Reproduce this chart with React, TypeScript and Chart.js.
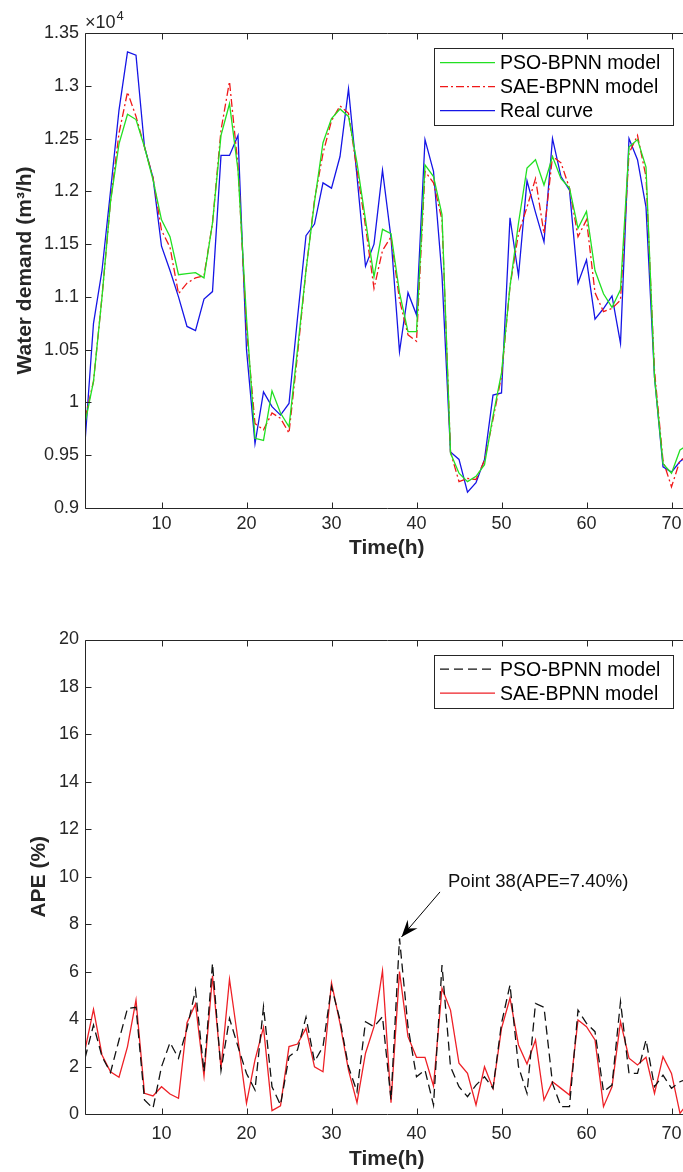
import React, { useEffect, useRef } from "react";
import { Chart, registerables } from "chart.js";

Chart.register(...registerables);

// ---------------- data ----------------
const hours = [
  1, 2, 3, 4, 5, 6, 7, 8, 9, 10, 11, 12, 13, 14, 15, 16, 17, 18, 19, 20,
  21, 22, 23, 24, 25, 26, 27, 28, 29, 30, 31, 32, 33, 34, 35, 36, 37, 38, 39, 40,
  41, 42, 43, 44, 45, 46, 47, 48, 49, 50, 51, 52, 53, 54, 55, 56, 57, 58, 59, 60,
  61, 62, 63, 64, 65, 66, 67, 68, 69, 70, 71, 72,
];
const xTicks = [10, 20, 30, 40, 50, 60, 70];
const demandTicks = [0.9, 0.95, 1, 1.05, 1.1, 1.15, 1.2, 1.25, 1.3, 1.35];
const apeTicks = [0, 2, 4, 6, 8, 10, 12, 14, 16, 18, 20];

// water demand, in units of 10^4 m3/h
const psoDemand = [
  0.980, 1.020, 1.100, 1.190, 1.245, 1.273, 1.268, 1.242, 1.211, 1.173,
  1.157, 1.121, 1.122, 1.123, 1.118, 1.170, 1.253, 1.283, 1.220, 1.080,
  0.966, 0.964, 1.011, 0.990, 0.977, 1.050, 1.125, 1.190, 1.246, 1.269,
  1.278, 1.271, 1.227, 1.173, 1.119, 1.164, 1.160, 1.104, 1.067, 1.067,
  1.225, 1.214, 1.178, 0.952, 0.933, 0.925, 0.930, 0.941, 0.987, 1.028,
  1.110, 1.170, 1.222, 1.230, 1.206, 1.233, 1.212, 1.203, 1.165, 1.181,
  1.125, 1.103, 1.090, 1.107, 1.242, 1.249, 1.223, 1.024, 0.942, 0.933,
  0.955, 0.960,
];
const saeDemand = [
  0.985, 1.020, 1.100, 1.190, 1.255, 1.294, 1.271, 1.242, 1.213, 1.163,
  1.147, 1.103, 1.113, 1.118, 1.120, 1.170, 1.258, 1.304, 1.224, 1.070,
  0.980, 0.974, 0.990, 0.985, 0.971, 1.045, 1.125, 1.192, 1.236, 1.267,
  1.281, 1.274, 1.220, 1.167, 1.108, 1.144, 1.157, 1.097, 1.064, 1.058,
  1.219, 1.208, 1.173, 0.953, 0.925, 0.928, 0.927, 0.945, 0.984, 1.025,
  1.110, 1.160, 1.185, 1.212, 1.160, 1.233, 1.227, 1.203, 1.157, 1.173,
  1.104, 1.086, 1.089, 1.097, 1.236, 1.253, 1.214, 1.030, 0.945, 0.920,
  0.945, 0.950,
];
const realDemand = [
  0.962, 1.075, 1.125, 1.200, 1.277, 1.332, 1.329, 1.242, 1.213, 1.148,
  1.125, 1.100, 1.072, 1.068, 1.098, 1.105, 1.234, 1.234, 1.253, 1.050,
  0.961, 1.010, 0.996, 0.988, 0.999, 1.080, 1.158, 1.169, 1.208, 1.203,
  1.233, 1.297, 1.214, 1.129, 1.150, 1.220, 1.156, 1.048, 1.104, 1.083,
  1.249, 1.219, 1.120, 0.953, 0.946, 0.915, 0.924, 0.946, 1.007, 1.009,
  1.175, 1.120, 1.210, 1.180, 1.152, 1.250, 1.214, 1.201, 1.113, 1.135,
  1.079, 1.089, 1.101, 1.056, 1.250, 1.230, 1.185, 1.024, 0.939, 0.934,
  0.944, 0.950,
];

// absolute percentage error (%)
const psoApe = [
  2.35, 3.75, 2.42, 1.75, 3.12, 4.45, 4.50, 0.59, 0.24, 1.99,
  3.01, 2.35, 3.60, 5.23, 1.78, 6.35, 1.83, 4.03, 2.84, 1.71,
  1.01, 4.52, 1.15, 0.38, 2.42, 2.70, 4.08, 2.21, 2.84, 5.37,
  3.96, 1.99, 0.94, 3.89, 3.68, 4.10, 0.60, 7.40, 3.68, 1.57,
  1.85, 0.38, 6.28, 1.99, 1.15, 0.73, 1.22, 1.57, 1.08, 3.82,
  5.44, 1.99, 0.87, 4.66, 4.50, 1.29, 0.31, 0.31, 4.38, 3.82,
  3.47, 0.94, 1.22, 4.73, 1.71, 1.71, 3.12, 1.15, 1.64, 1.08,
  1.36, 1.50,
];
const saeApe = [
  2.70, 4.41, 2.49, 1.78, 1.55, 2.84, 4.80, 0.87, 0.76, 1.15,
  0.84, 0.66, 3.85, 4.64, 1.60, 5.82, 1.93, 5.68, 3.12, 0.45,
  2.28, 3.65, 0.14, 0.34, 2.84, 2.95, 3.61, 1.99, 1.78, 5.53,
  3.82, 1.85, 0.48, 2.56, 3.68, 6.04, 0.48, 6.00, 3.26, 2.39,
  2.39, 1.18, 5.30, 4.38, 2.14, 1.71, 0.38, 1.99, 1.08, 3.61,
  4.88, 2.91, 2.11, 3.12, 0.59, 1.36, 1.08, 0.80, 3.96, 3.68,
  3.12, 0.31, 1.15, 3.89, 2.35, 2.07, 2.39, 0.87, 2.42, 1.71,
  0.03, 0.50,
];

const annotatedHour = 38;
const annotatedApe = 7.4;
const annotationText = "Point 38(APE=7.40%)";

// ---------------- style ----------------
const FONT = "'Liberation Sans', Arial, Helvetica, sans-serif";
const AXIS = "#262626";
const CANVAS_W = 720;
const PLOT_LEFT = 85;
const PLOT_RIGHT = 688.5;

const pts = (ys: number[]) => hours.map((h, i) => ({ x: h, y: ys[i] }));

const boxPlugin = {
  id: "matlabBox",
  afterDatasetsDraw(chart: any) {
    const { ctx, chartArea: a, scales } = chart;
    ctx.save();
    ctx.strokeStyle = AXIS;
    ctx.lineWidth = 1;
    const L = Math.round(a.left) + 0.5;
    const T = Math.round(a.top) + 0.5;
    const R = Math.round(a.right) + 0.5;
    const B = Math.round(a.bottom) + 0.5;
    ctx.beginPath();
    ctx.rect(L, T, R - L, B - T);
    const tl = 6;
    scales.x.ticks.forEach((t: any) => {
      const px = Math.round(scales.x.getPixelForValue(t.value)) + 0.5;
      ctx.moveTo(px, B);
      ctx.lineTo(px, B - tl);
      ctx.moveTo(px, T);
      ctx.lineTo(px, T + tl);
    });
    scales.y.ticks.forEach((t: any) => {
      const py = Math.round(scales.y.getPixelForValue(t.value)) + 0.5;
      ctx.moveTo(L, py);
      ctx.lineTo(L + tl, py);
      ctx.moveTo(R, py);
      ctx.lineTo(R - tl, py);
    });
    ctx.stroke();
    ctx.restore();
  },
};

const makeLegend = (offTop: number, offRight: number, width: number) => ({
  id: "matlabLegend",
  afterDatasetsDraw(chart: any) {
    const { ctx, chartArea: a } = chart;
    const ds = chart.data.datasets;
    const rowH = 24;
    const padY = 2.7;
    const right = a.right - offRight;
    const left = right - width;
    const top = a.top + offTop;
    const h = padY * 2 + ds.length * rowH;
    ctx.save();
    ctx.fillStyle = "#ffffff";
    ctx.fillRect(left, top, width, h);
    ctx.strokeStyle = AXIS;
    ctx.lineWidth = 1;
    ctx.strokeRect(Math.round(left) + 0.5, Math.round(top) + 0.5, Math.round(width), Math.round(h));
    ds.forEach((d: any, i: number) => {
      const cy = top + padY + rowH * (i + 0.5);
      ctx.beginPath();
      ctx.setLineDash(d.borderDash || []);
      ctx.strokeStyle = d.borderColor;
      ctx.lineWidth = d.borderWidth;
      ctx.moveTo(left + 6, cy);
      ctx.lineTo(left + 61, cy);
      ctx.stroke();
      ctx.setLineDash([]);
      ctx.fillStyle = "#000000";
      ctx.font = `19.5px ${FONT}`;
      ctx.textAlign = "left";
      ctx.textBaseline = "middle";
      ctx.fillText(d.label, left + 66, cy + 1);
    });
    ctx.restore();
  },
});

const exponentPlugin = {
  id: "exponent",
  afterDraw(chart: any) {
    const { ctx, chartArea: a } = chart;
    ctx.save();
    ctx.fillStyle = AXIS;
    ctx.textAlign = "left";
    ctx.textBaseline = "alphabetic";
    ctx.font = `18px ${FONT}`;
    const base = "\u00d710";
    ctx.fillText(base, a.left, a.top - 5);
    const w = ctx.measureText(base).width;
    ctx.font = `13px ${FONT}`;
    ctx.fillText("4", a.left + w + 1, a.top - 13);
    ctx.restore();
  },
};

const annotationPlugin = {
  id: "pointNote",
  afterDatasetsDraw(chart: any) {
    const { ctx, scales } = chart;
    const tipX = scales.x.getPixelForValue(annotatedHour) + 2;
    const tipY = scales.y.getPixelForValue(annotatedApe) - 1.5;
    const tailX = tipX + 38.5;
    const tailY = tipY - 45;
    ctx.save();
    ctx.strokeStyle = "#000";
    ctx.fillStyle = "#000";
    ctx.lineWidth = 1;
    ctx.beginPath();
    ctx.moveTo(tailX, tailY);
    ctx.lineTo(tipX, tipY);
    ctx.stroke();
    const ang = Math.atan2(tipY - tailY, tipX - tailX);
    const len = 17;
    const hw = 6.5;
    const bx = tipX - len * Math.cos(ang);
    const by = tipY - len * Math.sin(ang);
    ctx.beginPath();
    ctx.moveTo(tipX, tipY);
    ctx.lineTo(bx + hw * Math.sin(ang), by - hw * Math.cos(ang));
    ctx.lineTo(bx + 0.35 * len * Math.cos(ang), by + 0.35 * len * Math.sin(ang));
    ctx.lineTo(bx - hw * Math.sin(ang), by + hw * Math.cos(ang));
    ctx.closePath();
    ctx.fill();
    ctx.font = `18.5px ${FONT}`;
    ctx.textAlign = "left";
    ctx.textBaseline = "middle";
    ctx.fillStyle = "#111";
    ctx.fillText(annotationText, tailX + 8, tailY - 10);
    ctx.restore();
  },
};

const tickFont = { family: FONT, size: 18 };
const titleFont = { family: FONT, size: 21, weight: "bold" as const };

function xScale(tickPad: number, scaleH: number, titlePadBottom: number) {
  return {
    type: "linear" as const,
    min: 1,
    max: 72,
    afterBuildTicks: (s: any) => {
      s.ticks = xTicks.map((v) => ({ value: v }));
    },
    afterFit: (s: any) => {
      s.height = scaleH;
    },
    grid: { display: false, drawTicks: false, tickLength: 0 },
    border: { display: false },
    ticks: { font: tickFont, color: AXIS, padding: tickPad, maxRotation: 0, autoSkip: false },
    title: {
      display: true,
      text: "Time(h)",
      font: titleFont,
      color: AXIS,
      padding: { top: 0, bottom: titlePadBottom },
    },
  };
}

function yScale(min: number, max: number, ticks: number[], title: string, titlePad: number) {
  return {
    type: "linear" as const,
    min,
    max,
    afterBuildTicks: (s: any) => {
      s.ticks = ticks.map((v) => ({ value: v }));
    },
    afterFit: (s: any) => {
      s.width = PLOT_LEFT;
    },
    grid: { display: false, drawTicks: false, tickLength: 0 },
    border: { display: false },
    ticks: {
      font: tickFont,
      color: AXIS,
      padding: 6,
      autoSkip: false,
      callback: (v: any) => String(Number(Number(v).toFixed(2))),
    },
    title: {
      display: true,
      text: title,
      font: titleFont,
      color: AXIS,
      padding: { top: titlePad, bottom: 0 },
    },
  };
}

export default function App() {
  const topRef = useRef<HTMLCanvasElement | null>(null);
  const botRef = useRef<HTMLCanvasElement | null>(null);

  useEffect(() => {
    const line = (label: string, ys: number[], color: string, dash: number[] = []) => ({
      label,
      data: pts(ys),
      borderColor: color,
      backgroundColor: color,
      borderWidth: 1.3,
      borderDash: dash,
      pointRadius: 0,
      tension: 0,
      fill: false,
    });

    const top = new Chart(topRef.current as HTMLCanvasElement, {
      type: "line",
      data: {
        datasets: [
          line("PSO-BPNN model", psoDemand, "#22e022"),
          line("SAE-BPNN model", saeDemand, "#f01818", [8, 3, 2, 3]),
          line("Real curve", realDemand, "#1515e6"),
        ],
      },
      options: {
        animation: false,
        responsive: false,
        events: [],
        layout: { padding: { top: 33, right: CANVAS_W - PLOT_RIGHT, bottom: 0, left: 0 } },
        plugins: { legend: { display: false }, tooltip: { enabled: false } },
        scales: {
          x: xScale(5, 72, 19),
          y: yScale(0.9, 1.35, demandTicks, "Water demand (m\u00b3/h)", 13),
        },
      } as any,
      plugins: [boxPlugin, makeLegend(15, 15.5, 239), exponentPlugin],
    });

    const bottom = new Chart(botRef.current as HTMLCanvasElement, {
      type: "line",
      data: {
        datasets: [
          line("PSO-BPNN model", psoApe, "#111111", [9, 5]),
          line("SAE-BPNN model", saeApe, "#ee2026"),
        ],
      },
      options: {
        animation: false,
        responsive: false,
        events: [],
        layout: { padding: { top: 59.5, right: CANVAS_W - PLOT_RIGHT, bottom: 0, left: 0 } },
        plugins: { legend: { display: false }, tooltip: { enabled: false } },
        scales: {
          x: xScale(9, 58, 0),
          y: yScale(0, 20, apeTicks, "APE (%)", 27),
        },
      } as any,
      plugins: [boxPlugin, makeLegend(15, 15.5, 239), annotationPlugin],
    });

    return () => {
      top.destroy();
      bottom.destroy();
    };
  }, []);

  return (
    <div
      style={{
        position: "absolute",
        left: 0,
        top: 0,
        width: 683,
        height: 1172,
        overflow: "hidden",
        background: "#ffffff",
      }}
    >
      <canvas
        ref={topRef}
        width={CANVAS_W}
        height={580}
        style={{ position: "absolute", left: 0, top: 0, width: CANVAS_W, height: 580 }}
      />
      <canvas
        ref={botRef}
        width={CANVAS_W}
        height={592}
        style={{ position: "absolute", left: 0, top: 580, width: CANVAS_W, height: 592 }}
      />
    </div>
  );
}
